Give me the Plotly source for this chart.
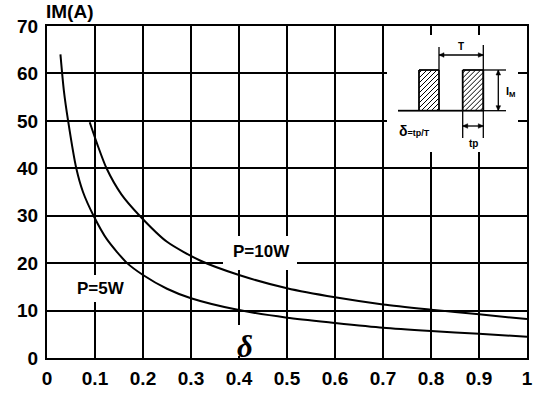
import plotly.graph_objects as go

# ---------------- data ----------------
delta_5w = [0.028, 0.035, 0.044, 0.061, 0.075, 0.097, 0.125, 0.167, 0.2, 0.25, 0.3, 0.4, 0.5, 0.6, 0.7, 0.8, 0.9, 1.0]
im_5w = [64, 56.5, 50, 40, 35, 30, 25, 20, 17.5, 14.6, 12.6, 10.1, 8.5, 7.4, 6.4, 5.7, 5.1, 4.5]

delta_10w = [0.089, 0.105, 0.124, 0.155, 0.193, 0.25, 0.32, 0.4, 0.5, 0.6, 0.7, 0.8, 0.9, 1.0]
im_10w = [49.7, 45, 40, 34.5, 30, 24.5, 20.5, 17.5, 14.7, 12.8, 11.3, 10.2, 9.2, 8.2]

x_ticks = [0, 0.1, 0.2, 0.3, 0.4, 0.5, 0.6, 0.7, 0.8, 0.9, 1.0]
x_labels = ["0", "0.1", "0.2", "0.3", "0.4", "0.5", "0.6", "0.7", "0.8", "0.9", "1"]
y_ticks = [0, 10, 20, 30, 40, 50, 60, 70]
y_labels = ["0", "10", "20", "30", "40", "50", "60", "70"]

label_5w = "P=5W"
label_10w = "P=10W"
y_title = "IM(A)"

# ---------------- layout geometry ----------------
W, H = 534, 393
ML, MR, MT, MB = 47, 7, 26, 35
PW, PH = W - ML - MR, H - MT - MB
XMAX, YMAX = 1.0, 70.0


def D(px, py):
    """pixel position -> data coordinates (for the schematic inset/labels)"""
    return ((px - ML) / PW * XMAX, (H - MB - py) / PH * YMAX)


def P(px, py):
    """pixel position -> paper coordinates"""
    return ((px - ML) / PW, (H - MB - py) / PH)


BOLD = dict(family="Liberation Sans", color="black", weight="bold")

fig = go.Figure()

# main curves
for xs, ys in ((delta_5w, im_5w), (delta_10w, im_10w)):
    fig.add_trace(go.Scatter(
        x=xs, y=ys, mode="lines",
        line=dict(color="black", width=2, shape="spline", smoothing=0.7),
        hoverinfo="skip", showlegend=False))

shapes = []
annotations = []


def white_box(x0, y0, x1, y1):
    a = D(x0, y0)
    b = D(x1, y1)
    shapes.append(dict(type="rect", xref="x", yref="y", x0=a[0], y0=a[1], x1=b[0], y1=b[1],
                       fillcolor="white", line=dict(width=0), layer="between"))


# white backgrounds behind labels and inset
white_box(70, 275, 130, 302)      # P=5W
white_box(223, 236, 297, 270)     # P=10W
white_box(232, 325, 258, 356)     # delta
white_box(387, 35, 518, 152)      # inset

# text labels
c = D(100.5, 288.5)
annotations.append(dict(x=c[0], y=c[1], xref="x", yref="y", text=label_5w, showarrow=False,
                        font=dict(size=17, **BOLD)))
c = D(261.5, 251)
annotations.append(dict(x=c[0], y=c[1], xref="x", yref="y", text=label_10w, showarrow=False,
                        font=dict(size=17, **BOLD)))
c = D(245, 346)
annotations.append(dict(x=c[0], y=c[1], xref="x", yref="y", text="<b><i>δ</i></b>", showarrow=False,
                        font=dict(size=31, family="Liberation Serif", color="black")))
c = P(44, 11)
annotations.append(dict(x=c[0], y=c[1], xref="paper", yref="paper", text=y_title, showarrow=False,
                        xanchor="left", yanchor="middle", font=dict(size=19, **BOLD)))

# ---------------- inset schematic ----------------
LW = 1.8
YB, YT = 110.7, 70      # pulse bottom / top (px)
R1 = (419, 439)
R2 = (462.7, 483.3)


def seg(x0, y0, x1, y1, w=LW):
    a = D(x0, y0)
    b = D(x1, y1)
    shapes.append(dict(type="line", xref="x", yref="y", x0=a[0], y0=a[1], x1=b[0], y1=b[1],
                       line=dict(color="black", width=w), layer="above"))


def tri(points):
    pts = [D(*p) for p in points]
    path = "M " + " L ".join(f"{x},{y}" for x, y in pts) + " Z"
    shapes.append(dict(type="path", xref="x", yref="y", path=path,
                       fillcolor="black", line=dict(color="black", width=0.5), layer="above"))


# baseline
seg(398, YB, R1[0], YB)
seg(R1[1], YB, R2[0], YB)

# hatched pulses
HS = 5.0
for (xa, xb) in (R1, R2):
    cc = xa + YT + HS * 0.6
    while cc < xb + YB:
        p0 = max(xa, cc - YB)
        p1 = min(xb, cc - YT)
        if p1 > p0:
            seg(p0, cc - p0, p1, cc - p1, w=1.0)
        cc += HS
    seg(xa, YB, xa, YT)
    seg(xa, YT, xb, YT)
    seg(xb, YT, xb, YB)
    seg(xa, YB, xb, YB)

# extension lines
seg(R1[1], YT, R1[1], 47, w=1.3)
seg(R2[1], 45, R2[1], 138, w=1.3)
seg(R2[0], YB, R2[0], 138, w=1.3)
seg(R2[1], YT, 506, YT, w=1.3)
seg(R2[1], YB, 506, YB, w=1.3)

AL, AW = 5.0, 2.3


def harrow(x0, x1, y):
    seg(x0, y, x1, y, w=1.3)
    tri([(x0, y), (x0 + AL, y - AW), (x0 + AL, y + AW)])
    tri([(x1, y), (x1 - AL, y - AW), (x1 - AL, y + AW)])


def varrow(x, y0, y1):
    seg(x, y0, x, y1, w=1.3)
    tri([(x, y0), (x - AW, y0 + AL), (x + AW, y0 + AL)])
    tri([(x, y1), (x - AW, y1 - AL), (x + AW, y1 - AL)])


harrow(R1[1], R2[1], 55)        # T
varrow(498.3, YT, YB)           # IM
harrow(R2[0], R2[1], 126)       # tp


def small_text(px, py, txt, size=9, anchor="center"):
    c = D(px, py)
    annotations.append(dict(x=c[0], y=c[1], xref="x", yref="y", text=txt, showarrow=False,
                            xanchor=anchor, font=dict(size=size, **BOLD)))


small_text(461, 46.5, "T", size=10)
small_text(504, 91.5, "I<sub>M</sub>", size=11, anchor="left")
small_text(473.5, 143, "tp", size=10)
small_text(397, 131, "<span style='font-size:14px'>δ</span>=tp/T", size=9, anchor="left")

# ---------------- axes ----------------
fig.update_layout(
    width=W, height=H,
    margin=dict(l=ML, r=MR, t=MT, b=MB, pad=0, autoexpand=False),
    plot_bgcolor="white", paper_bgcolor="white",
    showlegend=False,
    shapes=shapes, annotations=annotations,
    xaxis=dict(range=[0, XMAX], tickvals=x_ticks, ticktext=x_labels,
               showgrid=True, gridcolor="black", gridwidth=1.6,
               showline=True, linecolor="black", linewidth=2, mirror=True,
               zeroline=False, ticks="", ticklabelstandoff=2, automargin=False,
               tickfont=dict(size=19, **BOLD), fixedrange=True),
    yaxis=dict(range=[0, YMAX], tickvals=y_ticks, ticktext=y_labels,
               showgrid=True, gridcolor="black", gridwidth=1.6,
               showline=True, linecolor="black", linewidth=2, mirror=True,
               zeroline=False, ticks="", ticklabelstandoff=3, automargin=False,
               tickfont=dict(size=19, **BOLD), fixedrange=True),
)

fig.write_html("out.html")
